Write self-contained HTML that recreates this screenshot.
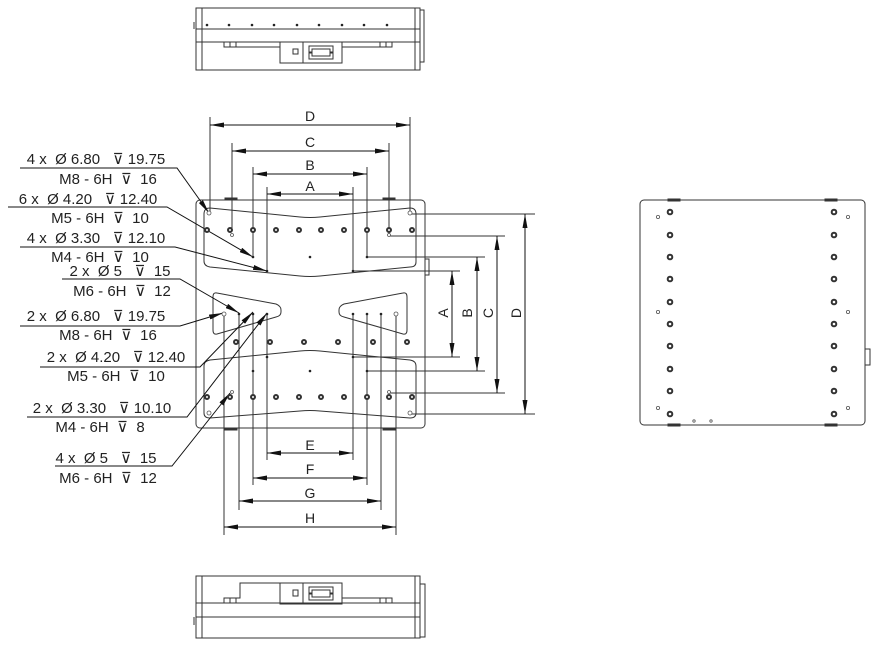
<!DOCTYPE html>
<html><head><meta charset="utf-8"><style>
html,body{margin:0;padding:0;background:#fff;}
svg{display:block;}
text{font-family:"Liberation Sans","DejaVu Sans",sans-serif;fill:#222;white-space:pre;}
</style></head><body>
<svg width="892" height="653" viewBox="0 0 892 653" xmlns="http://www.w3.org/2000/svg" xml:space="preserve">
<defs>
<marker id="ar" viewBox="0 0 10 10" refX="10" refY="5" markerWidth="14" markerHeight="5" preserveAspectRatio="none" orient="auto-start-reverse" markerUnits="userSpaceOnUse"><path d="M0,0 L10,5 L0,10 z" fill="#111"/></marker>
</defs>
<g fill="none" stroke="#333" stroke-width="1">
<rect x="196" y="8" width="224" height="62"/>
<line x1="202" y1="8" x2="202" y2="70"/>
<line x1="415" y1="8" x2="415" y2="70"/>
<rect x="420" y="10" width="4" height="52"/>
<line x1="196" y1="29" x2="420" y2="29"/>
<line x1="196" y1="42" x2="420" y2="42"/>
<line x1="194" y1="22" x2="194" y2="29"/><line x1="420" y1="22" x2="420" y2="29"/>
<rect x="224" y="42" width="6" height="5"/><rect x="230" y="42" width="6" height="5"/>
<rect x="380" y="42" width="6" height="5"/><rect x="386" y="42" width="6" height="5"/>
<line x1="236" y1="47" x2="280" y2="47"/><line x1="342" y1="47" x2="380" y2="47"/>
<rect x="280" y="42" width="62" height="21"/>
<line x1="303" y1="42" x2="303" y2="63"/>
<path d="M309,46 h24 v6 h-3 v-3 h-18 v3 h-3 z M309,53 h3 v3 h18 v-3 h3 v6 h-24z"/>
<rect x="293" y="49" width="5" height="5"/>
<rect x="196" y="576" width="224" height="62"/>
<line x1="202" y1="576" x2="202" y2="638"/>
<line x1="415" y1="576" x2="415" y2="638"/>
<rect x="420" y="584" width="5" height="53"/>
<line x1="196" y1="603" x2="420" y2="603"/>
<line x1="196" y1="617" x2="420" y2="617"/>
<line x1="194" y1="617" x2="194" y2="625"/><line x1="420" y1="617" x2="420" y2="625"/>
<rect x="224" y="598" width="6" height="5"/><rect x="230" y="598" width="6" height="5"/>
<rect x="380" y="598" width="6" height="5"/><rect x="386" y="598" width="6" height="5"/>
<polyline points="236,598 240,598 240,583 280,583"/>
<line x1="342" y1="598" x2="380" y2="598"/>
<rect x="280" y="583" width="62" height="21"/>
<line x1="303" y1="583" x2="303" y2="604"/>
<path d="M309,587 h24 v6 h-3 v-3 h-18 v3 h-3 z M309,594 h3 v3 h18 v-3 h3 v6 h-24z"/>
<rect x="293" y="590" width="5" height="6"/>
<rect x="640" y="200" width="225" height="225" rx="4"/>
<rect x="668" y="199" width="12" height="2" fill="#333"/><rect x="825" y="199" width="12" height="2" fill="#333"/>
<rect x="668" y="424" width="12" height="2" fill="#333"/><rect x="825" y="424" width="12" height="2" fill="#333"/>
<rect x="865" y="349" width="5" height="16"/>
<rect x="196" y="200" width="229" height="228" rx="4"/>
<rect x="225" y="198" width="12" height="2" fill="#333"/><rect x="383" y="198" width="12" height="2" fill="#333"/>
<rect x="225" y="428" width="12" height="2" fill="#333"/><rect x="383" y="428" width="12" height="2" fill="#333"/>
<rect x="425" y="259" width="4" height="16"/>
<path d="M210,208 L300,217 Q310,218 320,217 L410,208 Q416,208 416,214 L416,262 Q416,267 410,267 L320,276 Q310,277 300,276 L210,267 Q204,266 204,261 L204,214 Q204,208 210,208 Z"/>
<path d="M210,360 L300,351 Q310,350 320,351 L410,360 Q416,361 416,366 L416,413 Q416,418 410,418 L320,411 Q310,410 300,411 L210,418 Q204,418 204,413 L204,366 Q204,361 210,360 Z"/>
<path d="M217,293 L276,304 Q281,306 281,310 L281,312 Q281,316 276,317 L217,334 Q213,335 213,330 L213,297 Q213,292 217,293 Z"/>
<path d="M403,293 L344,304 Q339,306 339,310 L339,312 Q339,316 344,317 L403,334 Q407,335 407,330 L407,297 Q407,292 403,293 Z"/>
<line x1="210" y1="117" x2="210" y2="213"/><line x1="410" y1="117" x2="410" y2="213"/>
<line x1="232" y1="143" x2="232" y2="230"/><line x1="389" y1="143" x2="389" y2="236"/>
<line x1="253" y1="167" x2="253" y2="257"/><line x1="367" y1="167" x2="367" y2="257"/>
<line x1="267" y1="187" x2="267" y2="271"/><line x1="353" y1="187" x2="353" y2="271"/>
<line x1="224" y1="313" x2="224" y2="535"/><line x1="396" y1="313" x2="396" y2="535"/>
<line x1="239" y1="313" x2="239" y2="510"/><line x1="381" y1="313" x2="381" y2="510"/>
<line x1="253" y1="313" x2="253" y2="485"/><line x1="367" y1="313" x2="367" y2="485"/>
<line x1="267" y1="313" x2="267" y2="460"/><line x1="353" y1="313" x2="353" y2="460"/>
<line x1="410" y1="214" x2="535" y2="214"/><line x1="410" y1="414" x2="535" y2="414"/>
<line x1="389" y1="236" x2="505" y2="236"/><line x1="389" y1="393" x2="505" y2="393"/>
<line x1="367" y1="257" x2="485" y2="257"/><line x1="367" y1="371" x2="485" y2="371"/>
<line x1="353" y1="271" x2="460" y2="271"/><line x1="353" y1="357" x2="460" y2="357"/>
</g>
<g stroke="#111" stroke-width="1" fill="none">
<line x1="210" y1="125" x2="410" y2="125" marker-start="url(#ar)" marker-end="url(#ar)"/>
<line x1="232" y1="151" x2="389" y2="151" marker-start="url(#ar)" marker-end="url(#ar)"/>
<line x1="253" y1="174" x2="367" y2="174" marker-start="url(#ar)" marker-end="url(#ar)"/>
<line x1="267" y1="194" x2="353" y2="194" marker-start="url(#ar)" marker-end="url(#ar)"/>
<line x1="267" y1="453" x2="353" y2="453" marker-start="url(#ar)" marker-end="url(#ar)"/>
<line x1="253" y1="478" x2="367" y2="478" marker-start="url(#ar)" marker-end="url(#ar)"/>
<line x1="239" y1="501" x2="381" y2="501" marker-start="url(#ar)" marker-end="url(#ar)"/>
<line x1="224" y1="527" x2="396" y2="527" marker-start="url(#ar)" marker-end="url(#ar)"/>
<line x1="525" y1="214" x2="525" y2="414" marker-start="url(#ar)" marker-end="url(#ar)"/>
<line x1="497" y1="236" x2="497" y2="393" marker-start="url(#ar)" marker-end="url(#ar)"/>
<line x1="477" y1="257" x2="477" y2="371" marker-start="url(#ar)" marker-end="url(#ar)"/>
<line x1="452" y1="271" x2="452" y2="357" marker-start="url(#ar)" marker-end="url(#ar)"/>
<polyline points="20,168 177,168 209,213" marker-end="url(#ar)"/>
<polyline points="8,207 167,207 253,257" marker-end="url(#ar)"/>
<polyline points="20,247 175,247 267,271" marker-end="url(#ar)"/>
<polyline points="62,279 180,279 239,313" marker-end="url(#ar)"/>
<polyline points="20,326 180,326 223,313" marker-end="url(#ar)"/>
<polyline points="40,367 200,367 253,312" marker-end="url(#ar)"/>
<polyline points="27,417 187,417 267,313" marker-end="url(#ar)"/>
<polyline points="55,466 172,466 230,393" marker-end="url(#ar)"/>
</g>
<g fill="#fff" stroke="#333" stroke-width="2">
<circle cx="207" cy="230" r="2"/><circle cx="230" cy="230" r="2"/><circle cx="253" cy="230" r="2"/><circle cx="276" cy="230" r="2"/><circle cx="299" cy="230" r="2"/><circle cx="321" cy="230" r="2"/><circle cx="344" cy="230" r="2"/><circle cx="367" cy="230" r="2"/><circle cx="389" cy="230" r="2"/><circle cx="412" cy="230" r="2"/>
<circle cx="207" cy="397" r="2"/><circle cx="230" cy="397" r="2"/><circle cx="253" cy="397" r="2"/><circle cx="276" cy="397" r="2"/><circle cx="299" cy="397" r="2"/><circle cx="321" cy="397" r="2"/><circle cx="344" cy="397" r="2"/><circle cx="367" cy="397" r="2"/><circle cx="389" cy="397" r="2"/><circle cx="412" cy="397" r="2"/>
<circle cx="236" cy="342" r="2"/><circle cx="270" cy="342" r="2"/><circle cx="304" cy="342" r="2"/><circle cx="338" cy="342" r="2"/><circle cx="373" cy="342" r="2"/><circle cx="407" cy="342" r="2"/>
<circle cx="670" cy="212" r="2.3"/><circle cx="670" cy="235" r="2.3"/><circle cx="670" cy="257" r="2.3"/><circle cx="670" cy="279" r="2.3"/><circle cx="670" cy="302" r="2.3"/><circle cx="670" cy="324" r="2.3"/><circle cx="670" cy="346" r="2.3"/><circle cx="670" cy="369" r="2.3"/><circle cx="670" cy="391" r="2.3"/><circle cx="670" cy="414" r="2.3"/>
<circle cx="834" cy="212" r="2.3"/><circle cx="834" cy="235" r="2.3"/><circle cx="834" cy="257" r="2.3"/><circle cx="834" cy="279" r="2.3"/><circle cx="834" cy="302" r="2.3"/><circle cx="834" cy="324" r="2.3"/><circle cx="834" cy="346" r="2.3"/><circle cx="834" cy="369" r="2.3"/><circle cx="834" cy="391" r="2.3"/><circle cx="834" cy="414" r="2.3"/>
</g>
<g fill="#fff" stroke="#555" stroke-width="0.8">
<circle cx="209" cy="213" r="2"/><circle cx="410" cy="213" r="2"/><circle cx="209" cy="413" r="2"/><circle cx="410" cy="413" r="2"/>
<circle cx="224" cy="314" r="2"/><circle cx="396" cy="314" r="2"/>
<circle cx="232" cy="235" r="1.5"/><circle cx="389" cy="235" r="1.5"/><circle cx="232" cy="392" r="1.5"/><circle cx="389" cy="392" r="1.5"/>
<circle cx="658" cy="217" r="1.6"/><circle cx="848" cy="217" r="1.6"/><circle cx="658" cy="312" r="1.6"/><circle cx="848" cy="312" r="1.6"/><circle cx="658" cy="408" r="1.6"/><circle cx="848" cy="408" r="1.6"/>
<circle cx="694" cy="421" r="1.2"/><circle cx="711" cy="421" r="1.2"/>
</g>
<g fill="#222">
<circle cx="310" cy="257" r="1.3"/><circle cx="310" cy="371" r="1.3"/>
<circle cx="253" cy="257" r="1.3"/><circle cx="267" cy="271" r="1.3"/><circle cx="367" cy="257" r="1.3"/><circle cx="353" cy="271" r="1.3"/>
<circle cx="253" cy="371" r="1.3"/><circle cx="267" cy="357" r="1.3"/><circle cx="367" cy="371" r="1.3"/><circle cx="353" cy="357" r="1.3"/>
<circle cx="239" cy="314" r="1.3"/><circle cx="253" cy="314" r="1.3"/><circle cx="267" cy="314" r="1.3"/>
<circle cx="353" cy="314" r="1.3"/><circle cx="367" cy="314" r="1.3"/><circle cx="381" cy="314" r="1.3"/>
<circle cx="207" cy="25" r="1.3"/><circle cx="229" cy="25" r="1.3"/><circle cx="252" cy="25" r="1.3"/><circle cx="274" cy="25" r="1.3"/><circle cx="297" cy="25" r="1.3"/><circle cx="319" cy="25" r="1.3"/><circle cx="342" cy="25" r="1.3"/><circle cx="364" cy="25" r="1.3"/><circle cx="387" cy="25" r="1.3"/>
</g>
<g font-size="14" text-anchor="middle">
<text x="310" y="121">D</text><text x="310" y="147">C</text><text x="310" y="170">B</text><text x="310" y="191">A</text>
<text x="310" y="450">E</text><text x="310" y="474">F</text><text x="310" y="498">G</text><text x="310" y="523">H</text>
<text transform="translate(448,313) rotate(-90)">A</text>
<text transform="translate(472,313) rotate(-90)">B</text>
<text transform="translate(493,313) rotate(-90)">C</text>
<text transform="translate(521,313) rotate(-90)">D</text>
</g>
<g font-size="15" text-anchor="middle">
<text x="96" y="164">4 x  Ø 6.80   ⊽ 19.75</text><text x="108" y="184">M8 - 6H  ⊽  16</text>
<text x="88" y="204">6 x  Ø 4.20   ⊽ 12.40</text><text x="100" y="223">M5 - 6H  ⊽  10</text>
<text x="96" y="243">4 x  Ø 3.30   ⊽ 12.10</text><text x="100" y="262">M4 - 6H  ⊽  10</text>
<text x="120" y="276">2 x  Ø 5   ⊽  15</text><text x="122" y="296">M6 - 6H  ⊽  12</text>
<text x="96" y="321">2 x  Ø 6.80   ⊽ 19.75</text><text x="108" y="340">M8 - 6H  ⊽  16</text>
<text x="116" y="362">2 x  Ø 4.20   ⊽ 12.40</text><text x="116" y="381">M5 - 6H  ⊽  10</text>
<text x="102" y="413">2 x  Ø 3.30   ⊽ 10.10</text><text x="100" y="432">M4 - 6H  ⊽  8</text>
<text x="106" y="463">4 x  Ø 5   ⊽  15</text><text x="108" y="483">M6 - 6H  ⊽  12</text>
</g>
</svg>
</body></html>
